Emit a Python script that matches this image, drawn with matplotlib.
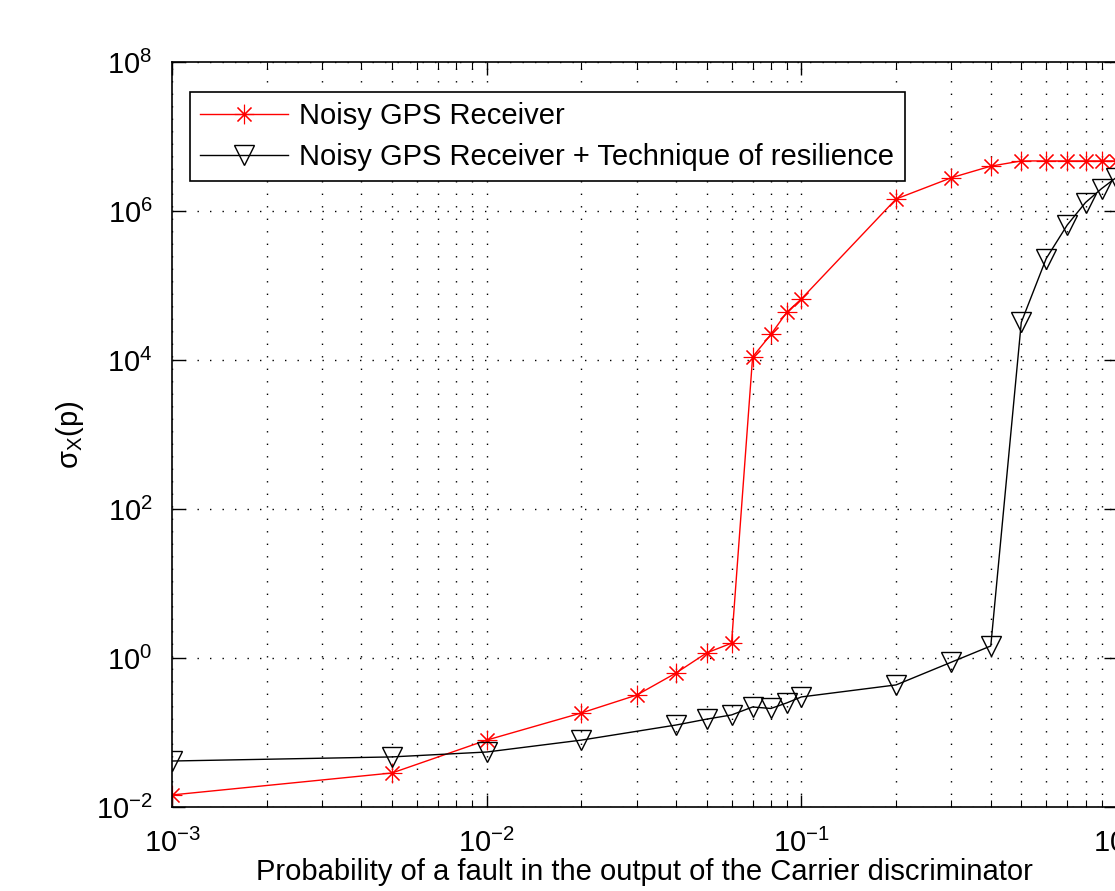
import matplotlib
matplotlib.use('Agg')
import matplotlib.pyplot as plt
from matplotlib.ticker import LogLocator, NullLocator

plt.rcParams['font.family'] = ['Liberation Sans', 'DejaVu Sans']
plt.rcParams['mathtext.fontset'] = 'custom'
plt.rcParams['mathtext.rm'] = 'Liberation Sans'
plt.rcParams['mathtext.it'] = 'Liberation Sans'

# probabilidad de fallo en el discriminador
p_ruido = [0.001, 0.005, 0.01, 0.02, 0.03, 0.04, 0.05, 0.06, 0.07, 0.08, 0.09,
           0.1, 0.2, 0.3, 0.4, 0.5, 0.6, 0.7, 0.8, 0.9, 1.0]
sigma_ruido = [0.0145, 0.0286, 0.079, 0.183, 0.318, 0.63, 1.17, 1.58, 1.1e4, 2.2e4,
               4.4e4, 6.6e4, 1.45e6, 2.8e6, 4.0e6, 4.7e6, 4.7e6, 4.7e6, 4.7e6, 4.7e6, 4.7e6]

p_resil = [0.001, 0.005, 0.01, 0.02, 0.04, 0.05, 0.06, 0.07, 0.08, 0.09,
           0.1, 0.2, 0.3, 0.4, 0.5, 0.6, 0.7, 0.8, 0.9, 1.0]
sigma_resil = [0.0414, 0.047, 0.0547, 0.079, 0.126, 0.151, 0.172, 0.22, 0.21, 0.25,
               0.30, 0.435, 0.88, 1.45, 3.2e4, 2.3e5, 6.5e5, 1.3e6, 2.0e6, 2.8e6]

etiquetas = ['Noisy GPS Receiver', 'Noisy GPS Receiver + Technique of resilience']

fig = plt.figure(figsize=(11.15, 8.91), dpi=100)
ax = fig.add_axes([0.1543, 0.0943, 0.8466, 0.8361])

ax.plot(p_ruido, sigma_ruido, color='red', lw=1.0, marker=(8, 2, 0), ms=14,
        mew=0.8, label=etiquetas[0])
ax.plot(p_resil, sigma_resil, color='black', lw=1.0, marker='v', ms=14,
        mfc='none', mec='black', mew=1.0, label=etiquetas[1])

ax.set_xscale('log')
ax.set_yscale('log')
ax.set_xlim(1e-3, 1e0)
ax.set_ylim(1e-2, 1e8)
ax.yaxis.set_major_locator(LogLocator(base=100))
ax.yaxis.set_minor_locator(NullLocator())
ax.xaxis.set_minor_locator(LogLocator(base=10, subs=range(2, 10)))

ax.grid(True, which='major', axis='y', color='black', linestyle=(0, (1, 8)), lw=1.0)
ax.grid(True, which='both', axis='x', color='black', linestyle=(0, (1, 8)), lw=1.0)

ax.tick_params(which='both', direction='in', top=True, right=True, labelsize=21)
ax.tick_params(which='major', length=9, width=1)
ax.tick_params(which='minor', length=5, width=0.8)
ax.tick_params(axis='x', pad=16)
ax.tick_params(axis='y', pad=14)
for s in ax.spines.values():
    s.set_linewidth(1.2)

ax.set_xlabel('Probability of a fault in the output of the Carrier discriminator', fontsize=21, labelpad=0)
ax.set_ylabel(r'$\mathrm{\sigma_X(p)}$', fontsize=21, labelpad=7)

leg = ax.legend(loc='upper left', bbox_to_anchor=(0.019, 0.96), borderaxespad=0,
                fontsize=21, handlelength=3.0, fancybox=False, framealpha=1,
                edgecolor='black', borderpad=0.35, labelspacing=0.45, handletextpad=0.4)
leg.get_frame().set_linewidth(1.2)

fig.savefig('out.png', dpi=100)
